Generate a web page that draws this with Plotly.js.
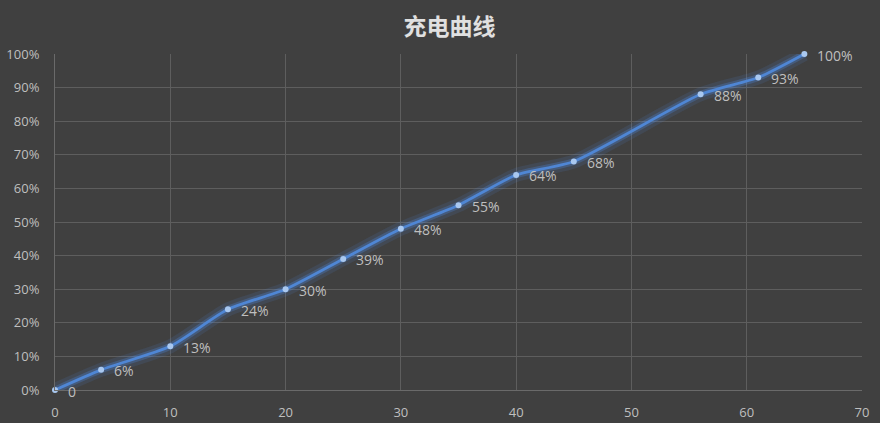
<!DOCTYPE html>
<html>
<head>
<meta charset="utf-8">
<script src="https://cdn.plot.ly/plotly-3.0.1.min.js"></script>
<style>
  html, body { margin: 0; padding: 0; background: #404040; }
  #chart { width: 880px; height: 423px; }
</style>
</head>
<body>
<div id="chart"></div>
<script>
// charging time (min) vs battery level
const minutes = [0, 4, 10, 15, 20, 25, 30, 35, 40, 45, 56, 61, 65];
const levels = [0, 0.06, 0.13, 0.24, 0.30, 0.39, 0.48, 0.55, 0.64, 0.68, 0.88, 0.93, 1.00];
const pointLabels = ['0', '6%', '13%', '24%', '30%', '39%', '48%', '55%', '64%', '68%', '88%', '93%', '100%'];

const lineShape = { shape: 'spline', smoothing: 0.6 };

// soft glow under the line
const glowWide = {
    x: minutes, y: levels, type: 'scatter', mode: 'lines',
    line: { ...lineShape, color: 'rgba(80,140,230,0.12)', width: 14 },
    hoverinfo: 'skip'
};
const glowNarrow = {
    x: minutes, y: levels, type: 'scatter', mode: 'lines',
    line: { ...lineShape, color: 'rgba(80,140,230,0.28)', width: 7 },
    hoverinfo: 'skip'
};

const mainLine = {
    x: minutes, y: levels, type: 'scatter', mode: 'lines+markers',
    line: { ...lineShape, color: '#4f86d4', width: 2.8 },
    marker: { color: '#a9c8f0', size: 6 },
    cliponaxis: false
};

// data labels to the right of each point
const labelNotes = minutes.map((m, i) => ({
    x: m, y: levels[i], xref: 'x', yref: 'y',
    text: pointLabels[i],
    showarrow: false,
    xanchor: 'left', yanchor: 'middle',
    xshift: 11, yshift: -1,
    font: { color: '#bfbfbf', size: 14, family: 'Open Sans, sans-serif' }
}));

const layout = {
    width: 880,
    height: 423,
    paper_bgcolor: '#404040',
    plot_bgcolor: '#404040',
    margin: { t: 54, b: 33, l: 55, r: 18 },
    showlegend: false,
    font: { family: 'Open Sans, sans-serif', color: '#bfbfbf', size: 13 },
    title: {
        text: '<b>充电曲线</b>',
        x: 0.489, xref: 'paper', xanchor: 'center',
        y: 25, yref: 'container', yanchor: 'middle',
        font: { family: 'Noto Sans CJK SC, sans-serif', size: 23, color: '#e0e0e0' }
    },
    annotations: labelNotes,
    xaxis: {
        range: [0, 70],
        dtick: 10,
        showgrid: true,
        gridcolor: '#5e5e5e',
        gridwidth: 1,
        zeroline: false,
        showline: true,
        linecolor: '#6a6a6a',
        linewidth: 1,
        ticks: '',
        ticklabelstandoff: 10,
        tickfont: { color: '#bfbfbf', size: 13 },
        fixedrange: true
    },
    yaxis: {
        range: [0, 1],
        dtick: 0.1,
        tickformat: '.0%',
        showgrid: true,
        gridcolor: '#5e5e5e',
        gridwidth: 1,
        zeroline: false,
        showline: true,
        linecolor: '#6a6a6a',
        linewidth: 1,
        ticks: '',
        ticklabelstandoff: 12,
        tickfont: { color: '#bfbfbf', size: 13 },
        fixedrange: true
    }
};

Plotly.newPlot('chart', [glowWide, glowNarrow, mainLine], layout, { displayModeBar: false, staticPlot: true });
</script>
</body>
</html>
